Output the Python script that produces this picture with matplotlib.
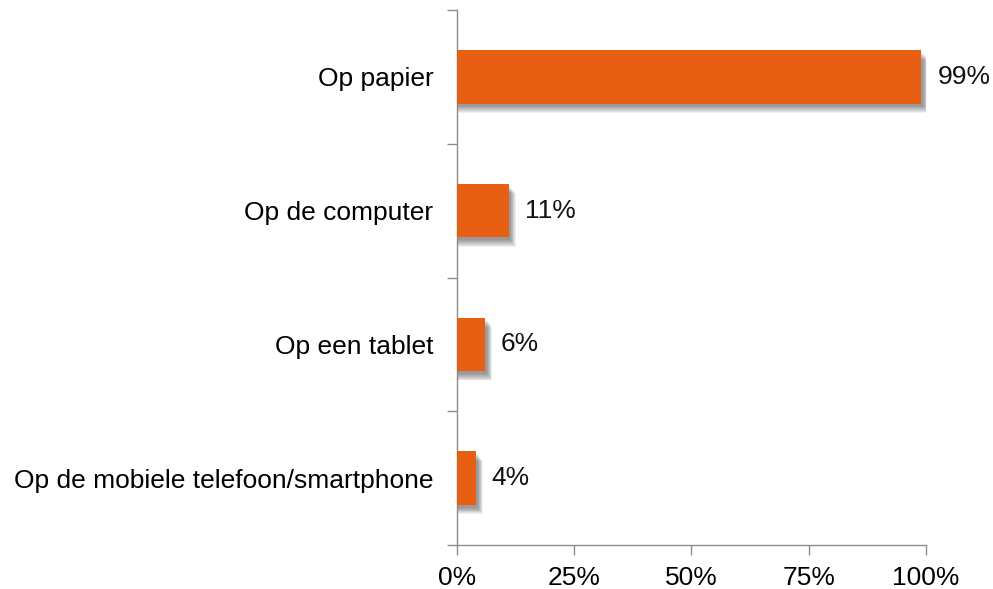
import matplotlib
matplotlib.use("Agg")
import matplotlib.pyplot as plt
from matplotlib.ticker import FixedLocator, NullFormatter

categories = ["Op papier", "Op de computer", "Op een tablet",
              "Op de mobiele telefoon/smartphone"]
values = [99, 11, 6, 4]
x_ticks = [0, 25, 50, 75, 100]
x_tick_labels = ["0%", "25%", "50%", "75%", "100%"]

plt.rcParams['font.family'] = ['Liberation Sans', 'DejaVu Sans']

BAR = '#E85E13'
AXIS = '#8C8C8C'
FS = 19

fig = plt.figure(figsize=(9.93, 5.89), dpi=100)
ax = fig.add_axes([0.4602, 0.0747, 0.4723, 0.9083])

n = len(categories)
pos = [n - 1 - i + 0.5 for i in range(n)]
h = 0.4

# soft drop shadow: stacked translucent copies, each a little further out
steps = 8
for k in range(steps):
    grow = (k + 1) / steps
    ax.barh([p - 0.015 - 0.055 * grow for p in pos],
            [v + 0.3 + 1.2 * grow for v in values],
            height=h, color='#000000', alpha=0.06, linewidth=0, zorder=1)

ax.barh(pos, values, height=h, color=BAR, linewidth=0, zorder=3)

for p, v in zip(pos, values):
    ax.annotate(f"{v}%", (v, p), xytext=(11.5, 0), textcoords='offset points',
                va='center', ha='left', fontsize=FS, color='#111111')

ax.set_xlim(0, 100)
ax.set_ylim(0, n)
ax.set_xticks(x_ticks)
ax.set_xticklabels(x_tick_labels, fontsize=FS)

# category ticks sit between bars, labels centred on bars
ax.yaxis.set_major_locator(FixedLocator(list(range(n + 1))))
ax.yaxis.set_major_formatter(NullFormatter())
ax.set_yticks(pos, minor=True)
ax.set_yticklabels(categories, minor=True, fontsize=FS)
ax.tick_params(axis='y', which='minor', length=0, pad=17)
ax.tick_params(axis='y', which='major', length=7, color=AXIS, width=1)
ax.tick_params(axis='x', length=7, color=AXIS, width=1, pad=8)

for s in ['top', 'right']:
    ax.spines[s].set_visible(False)
for s in ['left', 'bottom']:
    ax.spines[s].set_color(AXIS)
    ax.spines[s].set_linewidth(1)

fig.savefig('out.png', dpi=100)
